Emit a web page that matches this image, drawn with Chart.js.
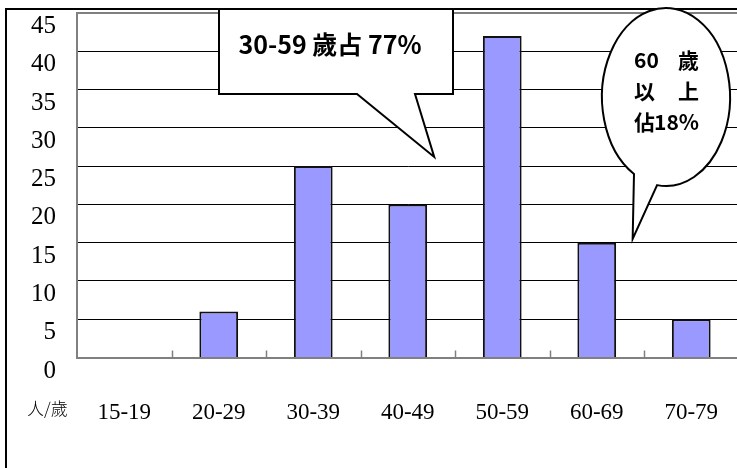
<!DOCTYPE html>
<html>
<head>
<meta charset="utf-8">
<script src="https://cdn.jsdelivr.net/npm/chart.js@4.4.0/dist/chart.umd.min.js"></script>
<style>
html, body { margin: 0; padding: 0; background: #fff; overflow: hidden; }
#wrap { position: relative; width: 737px; height: 468px; overflow: hidden; }
#frame { position: absolute; left: 5px; top: 8px; width: 800px; height: 500px; border-left: 2px solid #000; border-top: 2px solid #000; }
#box { position: absolute; left: 0; top: 0; width: 745px; height: 468px; }
</style>
</head>
<body>
<div id="wrap">
  <div id="frame"></div>
  <div id="box"><canvas id="chart"></canvas></div>
</div>
<script>
// data
const ageGroups = ['15-19', '20-29', '30-39', '40-49', '50-59', '60-69', '70-79'];
const people = [0, 6, 25, 20, 42, 15, 5];
const yTicks = [0, 5, 10, 15, 20, 25, 30, 35, 40, 45];
const unitLabel = '人/歲';
const middleNote = '30-59 歲占 77%';
const oldNote = [['60', '歲'], ['以', '上'], ['佔', '18%']];

const serif = '"Liberation Serif", "Times New Roman", serif';
const cjk = '"Noto Sans CJK TC", "Noto Sans CJK SC", sans-serif';

// tick marks, unit label and the two speech bubbles
const extras = {
    id: 'extras',
    afterDraw(chart) {
        const { ctx, chartArea: a } = chart;
        const x = chart.scales.x, y = chart.scales.y;
        ctx.save();

        // small inward ticks between categories
        ctx.strokeStyle = '#808080';
        ctx.lineWidth = 1.5;
        for (let i = 1; i < ageGroups.length; i++) {
            const px = Math.round(x.getPixelForValue(i - 0.5)) + 0.5;
            ctx.beginPath();
            ctx.moveTo(px, a.bottom);
            ctx.lineTo(px, a.bottom - 7);
            ctx.stroke();
        }

        ctx.fillStyle = '#000';
        ctx.font = '300 17px ' + cjk;
        ctx.textAlign = 'left';
        ctx.textBaseline = 'middle';
        ctx.fillText(unitLabel, 27, 409);

        // rectangular callout
        const t1x = x.getPixelForValue(3.28), t1y = y.getPixelForValue(26.2);
        ctx.beginPath();
        ctx.moveTo(219, 9);
        ctx.lineTo(453, 9);
        ctx.lineTo(453, 94);
        ctx.lineTo(415, 94);
        ctx.lineTo(t1x, t1y);
        ctx.lineTo(357, 94);
        ctx.lineTo(219, 94);
        ctx.closePath();
        ctx.fillStyle = '#fff';
        ctx.fill();
        ctx.strokeStyle = '#000';
        ctx.lineWidth = 2;
        ctx.stroke();

        ctx.fillStyle = '#000';
        ctx.font = 'bold 25px ' + cjk;
        ctx.textAlign = 'center';
        ctx.fillText(middleNote, 330, 44);

        // oval callout
        const t2x = x.getPixelForValue(5.38), t2y = y.getPixelForValue(15.5);
        const deg = Math.PI / 180;
        ctx.beginPath();
        ctx.ellipse(666, 97, 64, 89, 0, 120 * deg, 458 * deg, false);
        ctx.lineTo(t2x, t2y);
        ctx.closePath();
        ctx.fillStyle = '#fff';
        ctx.fill();
        ctx.stroke();

        ctx.fillStyle = '#000';
        ctx.font = 'bold 21px ' + cjk;
        oldNote.forEach((pair, i) => {
            const ly = 60 + i * 31;
            ctx.textAlign = 'left';
            ctx.fillText(pair[0], 634, ly);
            ctx.textAlign = 'right';
            ctx.fillText(pair[1], 699, ly);
        });

        ctx.restore();
    }
};

const ctx = document.getElementById('chart').getContext('2d');
new Chart(ctx, {
    type: 'bar',
    data: {
        labels: ageGroups,
        datasets: [{
            data: people,
            backgroundColor: '#9999FF',
            borderColor: '#111',
            borderWidth: 2,
            barPercentage: 0.41,
            categoryPercentage: 1
        }]
    },
    options: {
        responsive: true,
        maintainAspectRatio: false,
        animation: false,
        layout: { padding: { left: 0, top: 13, right: 6.5, bottom: 0 } },
        plugins: {
            legend: { display: false },
            tooltip: { enabled: false }
        },
        scales: {
            x: {
                grid: { display: false },
                border: { color: '#808080', width: 2 },
                ticks: {
                    color: '#000',
                    font: { family: serif, size: 23 },
                    padding: 34,
                    maxRotation: 0,
                    autoSkip: false
                },
                afterFit(s) { s.height = 110.5; s.paddingLeft = 0; s.paddingRight = 0; }
            },
            y: {
                min: 0,
                max: 45,
                afterBuildTicks(s) { s.ticks = yTicks.map(v => ({ value: v })); },
                ticks: {
                    color: '#000',
                    font: { family: serif, size: 25 },
                    padding: 21,
                    labelOffset: 13.5
                },
                grid: {
                    drawTicks: false,
                    color: c => (c.tick.value === 0 || c.tick.value === 45) ? '#808080' : '#000',
                    lineWidth: c => (c.tick.value === 45) ? 2 : 1
                },
                border: { color: '#808080', width: 2 },
                afterFit(s) { s.width = 77; s.paddingTop = 0; s.paddingBottom = 0; }
            }
        }
    },
    plugins: [extras]
});
</script>
</body>
</html>
